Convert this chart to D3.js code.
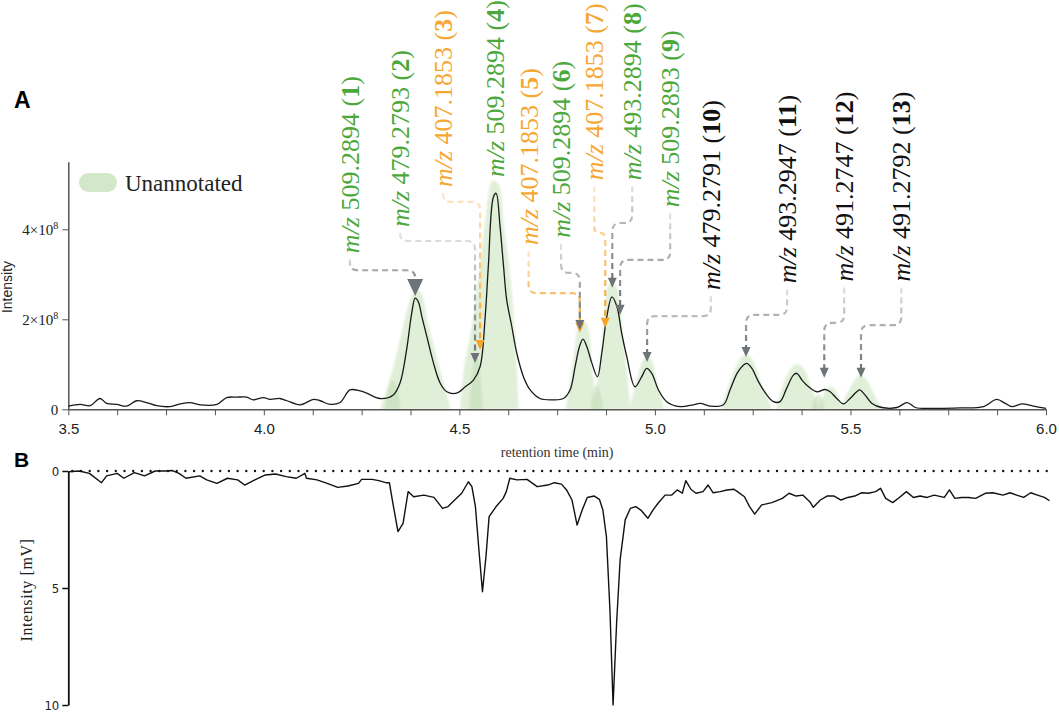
<!DOCTYPE html>
<html>
<head>
<meta charset="utf-8">
<script src="https://cdn.jsdelivr.net/npm/d3@7"></script>
<style>
  body { margin: 0; background: #fff; }
</style>
</head>
<body>
<div id="chart"></div>
<script>
// ---- data (panel A intensity in units of 1e8, panel B in mV) ----
const traceA = [[3.500,0.07],[3.530,0.11],[3.556,0.08],[3.581,0.24],[3.598,0.13],[3.624,0.11],[3.649,0.07],[3.675,0.19],[3.700,0.15],[3.726,0.08],[3.760,0.06],[3.786,0.12],[3.811,0.15],[3.837,0.10],[3.880,0.11],[3.905,0.26],[3.931,0.27],[3.956,0.27],[3.973,0.21],[3.999,0.26],[4.016,0.22],[4.041,0.24],[4.059,0.19],[4.093,0.10],[4.127,0.22],[4.144,0.19],[4.169,0.11],[4.195,0.15],[4.220,0.43],[4.246,0.41],[4.263,0.36],[4.297,0.24],[4.331,0.32],[4.348,0.58],[4.365,1.32],[4.378,2.13],[4.387,2.47],[4.395,2.39],[4.404,2.06],[4.417,1.61],[4.434,1.02],[4.451,0.58],[4.468,0.39],[4.493,0.36],[4.515,0.50],[4.536,0.65],[4.553,0.95],[4.566,2.06],[4.574,3.17],[4.587,4.72],[4.594,4.80],[4.604,4.06],[4.613,3.17],[4.621,2.43],[4.634,1.84],[4.647,1.24],[4.664,0.72],[4.681,0.43],[4.706,0.24],[4.740,0.21],[4.766,0.24],[4.783,0.43],[4.796,0.95],[4.807,1.39],[4.816,1.56],[4.826,1.39],[4.839,1.02],[4.853,0.72],[4.864,1.24],[4.877,2.06],[4.890,2.50],[4.903,2.28],[4.915,1.69],[4.928,1.17],[4.949,0.50],[4.966,0.72],[4.979,0.91],[4.992,0.80],[5.009,0.43],[5.030,0.17],[5.064,0.06],[5.098,0.10],[5.116,0.13],[5.141,0.07],[5.175,0.10],[5.192,0.43],[5.210,0.80],[5.226,0.98],[5.235,1.02],[5.248,0.91],[5.265,0.61],[5.286,0.32],[5.303,0.17],[5.320,0.17],[5.337,0.47],[5.354,0.76],[5.363,0.80],[5.376,0.65],[5.393,0.50],[5.414,0.39],[5.435,0.44],[5.448,0.39],[5.465,0.24],[5.482,0.12],[5.499,0.24],[5.516,0.39],[5.524,0.43],[5.537,0.32],[5.555,0.13],[5.580,0.04],[5.619,0.04],[5.645,0.15],[5.666,0.04],[5.712,0.02],[5.781,0.03],[5.840,0.06],[5.874,0.22],[5.896,0.13],[5.913,0.06],[5.938,0.12],[5.968,0.07],[6.000,0.02]];

const traceB = [[3.501,0.03],[3.528,0.0],[3.554,0.10],[3.585,0.50],[3.598,0.21],[3.625,0.10],[3.642,0.31],[3.669,0.07],[3.695,0.21],[3.722,0.0],[3.748,0.0],[3.766,-0.02],[3.783,0.10],[3.801,0.31],[3.836,0.21],[3.854,0.38],[3.880,0.53],[3.907,0.31],[3.933,0.38],[3.951,0.60],[3.977,0.38],[4.004,0.17],[4.030,0.13],[4.057,0.24],[4.083,0.31],[4.105,0.10],[4.109,0.31],[4.136,0.38],[4.162,0.53],[4.189,0.70],[4.215,0.64],[4.242,0.53],[4.250,0.36],[4.277,0.36],[4.294,0.41],[4.312,0.50],[4.321,0.50],[4.330,1.38],[4.343,2.59],[4.356,2.24],[4.369,0.88],[4.383,1.10],[4.409,1.03],[4.435,1.13],[4.457,1.60],[4.471,1.52],[4.488,1.24],[4.506,0.95],[4.523,0.46],[4.532,0.67],[4.541,1.52],[4.550,3.38],[4.559,5.16],[4.568,3.66],[4.576,1.95],[4.594,1.52],[4.612,1.17],[4.620,0.88],[4.629,0.31],[4.647,0.38],[4.673,0.36],[4.699,0.67],[4.726,0.60],[4.743,0.50],[4.761,0.56],[4.774,0.81],[4.788,1.24],[4.801,2.31],[4.814,1.67],[4.827,1.13],[4.845,1.07],[4.858,1.21],[4.867,1.67],[4.876,2.81],[4.885,5.94],[4.893,10.0],[4.902,6.51],[4.911,3.80],[4.924,2.09],[4.937,1.60],[4.951,1.52],[4.964,1.67],[4.982,2.02],[4.995,1.67],[5.008,1.38],[5.026,1.03],[5.043,1.03],[5.057,0.81],[5.070,0.95],[5.079,0.41],[5.092,0.78],[5.105,0.95],[5.123,0.88],[5.136,0.60],[5.149,0.93],[5.167,0.88],[5.184,0.81],[5.202,0.78],[5.211,0.88],[5.229,1.10],[5.242,1.52],[5.255,1.84],[5.273,1.45],[5.299,1.35],[5.326,1.17],[5.343,0.95],[5.361,1.07],[5.378,1.03],[5.396,1.31],[5.405,1.55],[5.423,1.24],[5.440,1.07],[5.458,1.07],[5.476,1.24],[5.493,1.13],[5.511,1.07],[5.528,0.93],[5.546,0.95],[5.564,0.88],[5.577,0.74],[5.590,1.17],[5.608,1.35],[5.625,1.13],[5.643,0.88],[5.661,1.13],[5.678,1.07],[5.696,1.13],[5.714,1.03],[5.740,1.13],[5.753,0.81],[5.767,1.17],[5.784,1.13],[5.802,1.13],[5.820,1.17],[5.846,0.95],[5.864,0.93],[5.890,1.03],[5.908,0.93],[5.925,1.03],[5.943,1.13],[5.961,0.93],[5.978,1.03],[5.996,1.13],[6.009,1.27]];

// unannotated peak envelopes (shaded green)
const envelopes = [
  [[4.298,0],[4.33,0.9],[4.37,2.3],[4.385,2.62],[4.4,2.62],[4.42,1.9],[4.45,0.9],[4.478,0]],
  [[4.502,0],[4.512,0.9],[4.535,2.0],[4.565,4.1],[4.585,5.08],[4.6,5.0],[4.615,4.0],[4.632,2.8],[4.645,1.2],[4.652,0]],
  [[4.772,0],[4.79,1.0],[4.81,1.95],[4.825,1.9],[4.84,0.9],[4.85,0]],
  [[4.845,0],[4.865,1.5],[4.885,2.8],[4.9,2.75],[4.92,1.5],[4.938,0]],
  [[4.935,0],[4.955,0.7],[4.975,1.15],[4.99,1.1],[5.005,0.6],[5.025,0]],
  [[5.17,0],[5.2,0.8],[5.228,1.2],[5.245,1.15],[5.275,0.5],[5.3,0]],
  [[5.31,0],[5.335,0.7],[5.36,1.0],[5.38,0.9],[5.405,0.35],[5.422,0]],
  [[5.42,0],[5.435,0.4],[5.448,0.5],[5.46,0.45],[5.48,0]],
  [[5.475,0],[5.5,0.5],[5.525,0.77],[5.545,0.6],[5.565,0.25],[5.585,0]]
];
const overlaps = [
  [[4.31,0],[4.32,0.5],[4.33,0.65],[4.34,0.5],[4.35,0]],
  [[4.525,0],[4.535,1.0],[4.542,1.3],[4.55,1.0],[4.56,0]],
  [[4.835,0],[4.845,0.45],[4.851,0.55],[4.858,0.45],[4.868,0]],
  [[5.40,0],[5.41,0.28],[5.417,0.33],[5.425,0.28],[5.435,0]]
];

// peak annotations
const peakId   = [1,2,3,4,5,6,7,8,9,10,11,12,13];
const peakMz   = ["509.2894","479.2793","407.1853","509.2894","407.1853","509.2894","407.1853","493.2894","509.2893","479.2791","493.2947","491.2747","491.2792"];
const peakKind = ["match","match","fragment","match","fragment","match","fragment","match","match","other","other","other","other"];
const peakTime = [4.387,4.540,4.553,null,4.808,4.808,4.873,4.891,4.911,4.980,5.233,5.433,5.527];
const peakTip  = [2.52,1.03,1.32,null,1.70,1.76,1.81,2.70,2.10,1.05,1.16,0.70,0.70];

const xTicks = d3.range(3.5, 6.0001, 0.125);
const yTicksA = [0, 2, 4];
const yTicksB = [0, 5, 10];

// label layout, in data units: label time, label foot, elbow level
const labelTime = [4.220,4.348,4.458,4.591,4.677,4.760,4.845,4.942,5.039,5.143,5.338,5.484,5.630];
const labelFoot = [3.47,4.05,4.94,5.16,3.65,3.81,5.09,5.09,4.49,2.65,2.80,2.84,2.84];
const elbow     = [3.09,3.74,4.61,null,2.58,3.03,3.92,4.14,3.32,2.07,2.10,1.92,1.87];

const kindColor = {match: "#4ca83c", fragment: "#f6a733", other: "#111"};

const width = 1059, height = 714;
const svg = d3.select("#chart").append("svg")
    .attr("width", width)
    .attr("height", height);

const x = d3.scaleLinear().domain([3.5, 6.0]).range([68.3, 1046]);
const yA = d3.scaleLinear().domain([0, 5.5]).range([409.3, 161.8]);
const yB = d3.scaleLinear().domain([0, 10]).range([471, 705]);

const defs = svg.append("defs");
defs.append("filter").attr("id", "soft")
  .append("feGaussianBlur").attr("stdDeviation", 1.0);
function grad(id, c0, c1) {
  const g = defs.append("linearGradient").attr("id", id)
    .attr("x1", 0).attr("y1", 0).attr("x2", 0).attr("y2", 1);
  g.append("stop").attr("offset", "0%").attr("stop-color", c0);
  g.append("stop").attr("offset", "100%").attr("stop-color", c1);
}
grad("gGray", "#e2e2e2", "#6e7378");
grad("gOrange", "#fde7c6", "#f5a42a");

// panel letters
svg.append("text").attr("x", 14).attr("y", 108)
  .attr("font-family", "Liberation Sans, Arial, sans-serif")
  .attr("font-weight", "bold").attr("font-size", 23).text("A");
svg.append("text").attr("x", 14).attr("y", 467)
  .attr("font-family", "Liberation Sans, Arial, sans-serif")
  .attr("font-weight", "bold").attr("font-size", 21).text("B");

// ---- panel A ----
const area = d3.area()
  .x(d => x(d[0])).y0(yA(0)).y1(d => yA(d[1]))
  .curve(d3.curveCatmullRom.alpha(0.5));

svg.append("g").attr("filter", "url(#soft)")
  .selectAll("path.env").data(envelopes).join("path")
  .attr("class", "env")
  .attr("d", area)
  .attr("fill", "#d6eacb").attr("fill-opacity", 0.75);

svg.append("g").attr("filter", "url(#soft)")
  .selectAll("path.ovl").data(overlaps).join("path")
  .attr("class", "ovl")
  .attr("d", area)
  .attr("fill", "#c2dcb5").attr("fill-opacity", 0.6);

// legend
svg.append("rect").attr("x", 79).attr("y", 173).attr("width", 38).attr("height", 19)
  .attr("rx", 9.5).attr("fill", "#d3e8c8");
svg.append("text").attr("x", 125).attr("y", 191)
  .attr("font-family", "Liberation Serif, Times New Roman, serif")
  .attr("font-size", 23).attr("fill", "#222").text("Unannotated");

// axes A
const xAxisA = svg.append("g")
  .attr("transform", "translate(0," + yA(0) + ")")
  .call(d3.axisBottom(x).tickValues(xTicks).tickSize(6).tickSizeOuter(0).tickPadding(8)
    .tickFormat(d => Math.abs(d * 2 - Math.round(d * 2)) < 1e-6 ? d.toFixed(1) : ""));
xAxisA.select(".domain").attr("stroke", "#555").attr("stroke-width", 1.5);
xAxisA.selectAll(".tick line").attr("stroke", "#555");
xAxisA.selectAll(".tick text")
  .attr("font-family", "Liberation Sans, Arial, sans-serif")
  .attr("font-size", 15).attr("fill", "#222");

const yAxisA = svg.append("g")
  .attr("transform", "translate(" + x(3.5) + ",0)")
  .call(d3.axisLeft(yA).tickValues(yTicksA).tickSize(6).tickSizeOuter(0).tickPadding(4));
yAxisA.select(".domain").attr("stroke", "#555").attr("stroke-width", 1.5);
yAxisA.selectAll(".tick line").attr("stroke", "#555");
yAxisA.selectAll(".tick text")
  .attr("font-family", "Liberation Serif, Times New Roman, serif")
  .attr("font-size", 15).attr("fill", "#222")
  .each(function(d) {
    const t = d3.select(this);
    t.text(null);
    if (d === 0) { t.text("0"); return; }
    t.append("tspan").text(d + "×10");
    t.append("tspan").attr("dy", -6).attr("font-size", 10).text("8");
  });

svg.append("text")
  .attr("transform", "translate(12,287) rotate(-90)")
  .attr("text-anchor", "middle")
  .attr("font-family", "Liberation Sans, Arial, sans-serif")
  .attr("font-size", 14).attr("fill", "#222").text("Intensity");

svg.append("text").attr("x", (x(3.5) + x(6.0)) / 2).attr("y", 457)
  .attr("text-anchor", "middle")
  .attr("font-family", "Liberation Serif, Times New Roman, serif")
  .attr("font-size", 14).attr("fill", "#333").text("retention time (min)");

// trace A
const lineA = d3.line().x(d => x(d[0])).y(d => yA(d[1])).curve(d3.curveCatmullRom.alpha(0.5));
svg.append("path").datum(traceA)
  .attr("d", lineA)
  .attr("fill", "none").attr("stroke", "#1a1a1a").attr("stroke-width", 1.3);

// connectors + arrowheads
const ann = peakId.map((id, i) => ({
  id, mz: peakMz[i], kind: peakKind[i], t: peakTime[i], tip: peakTip[i],
  lt: labelTime[i], lf: labelFoot[i], eh: elbow[i], big: i === 0
}));

const gConn = svg.append("g");
ann.filter(d => d.t !== null).forEach(d => {
  const xs = x(d.lt), ys = yA(d.lf) + 6;
  const xe = x(d.t), yh = yA(d.eh);
  const headH = d.big ? 17 : 10, headW = d.big ? 16 : 9;
  const yt = yA(d.tip);
  const dir = xe >= xs ? 1 : -1;
  const r = Math.min(8, Math.abs(xe - xs) / 2);
  const p = d3.path();
  p.moveTo(xs, ys);
  p.lineTo(xs, yh - r);
  p.quadraticCurveTo(xs, yh, xs + dir * r, yh);
  p.lineTo(xe - dir * r, yh);
  p.quadraticCurveTo(xe, yh, xe, yh + r);
  p.lineTo(xe, yt - headH + 1);
  const orange = d.kind === "fragment";
  gConn.append("path").attr("d", p.toString())
    .attr("fill", "none")
    .attr("stroke", orange ? "url(#gOrange)" : "url(#gGray)")
    .attr("stroke-width", 2.2)
    .attr("stroke-dasharray", "6,4");
  gConn.append("path")
    .attr("d", "M" + (xe - headW / 2) + "," + (yt - headH) + "L" + (xe + headW / 2) + "," + (yt - headH) + "L" + xe + "," + yt + "Z")
    .attr("fill", orange ? "#f5a42a" : "#6e7378");
});

// labels
const gLab = svg.append("g");
ann.forEach(d => {
  const t = gLab.append("text")
    .attr("transform", "translate(" + x(d.lt) + "," + yA(d.lf) + ") rotate(-90)")
    .attr("dy", "0.35em")
    .attr("font-family", "Liberation Serif, Times New Roman, serif")
    .attr("font-size", 26)
    .attr("fill", kindColor[d.kind]);
  t.append("tspan").attr("font-style", "italic").text("m/z");
  t.append("tspan").text(" " + d.mz + " (");
  t.append("tspan").attr("font-weight", "bold").text(d.id);
  t.append("tspan").text(")");
});

// ---- panel B ----
svg.append("line")
  .attr("x1", x(3.5) + 4).attr("x2", x(6.0) + 4)
  .attr("y1", yB(0)).attr("y2", yB(0))
  .attr("stroke", "#111").attr("stroke-width", 2.4)
  .attr("stroke-linecap", "round").attr("stroke-dasharray", "0,8.7");

const yAxisB = svg.append("g")
  .attr("transform", "translate(" + x(3.5) + ",0)")
  .call(d3.axisLeft(yB).tickValues(yTicksB).tickSize(6).tickSizeOuter(0).tickPadding(3));
yAxisB.select(".domain").attr("stroke", "#111").attr("stroke-width", 1.8);
yAxisB.selectAll(".tick line").attr("stroke", "#111").attr("stroke-width", 1.5);
yAxisB.selectAll(".tick text")
  .attr("font-family", "Liberation Sans Narrow, DejaVu Sans Condensed, sans-serif")
  .attr("font-size", 13).attr("fill", "#222");

svg.append("text")
  .attr("transform", "translate(26,590) rotate(-90)")
  .attr("dy", "0.35em")
  .attr("text-anchor", "middle")
  .attr("font-family", "Liberation Serif, Times New Roman, serif")
  .attr("font-size", 16).attr("letter-spacing", 0.6).attr("fill", "#222")
  .text("Intensity [mV]");

const lineB = d3.line().x(d => x(d[0])).y(d => yB(d[1]));
svg.append("path").datum(traceB)
  .attr("d", lineB)
  .attr("fill", "none").attr("stroke", "#111").attr("stroke-width", 1.4)
  .attr("stroke-linejoin", "round");
</script>
</body>
</html>
